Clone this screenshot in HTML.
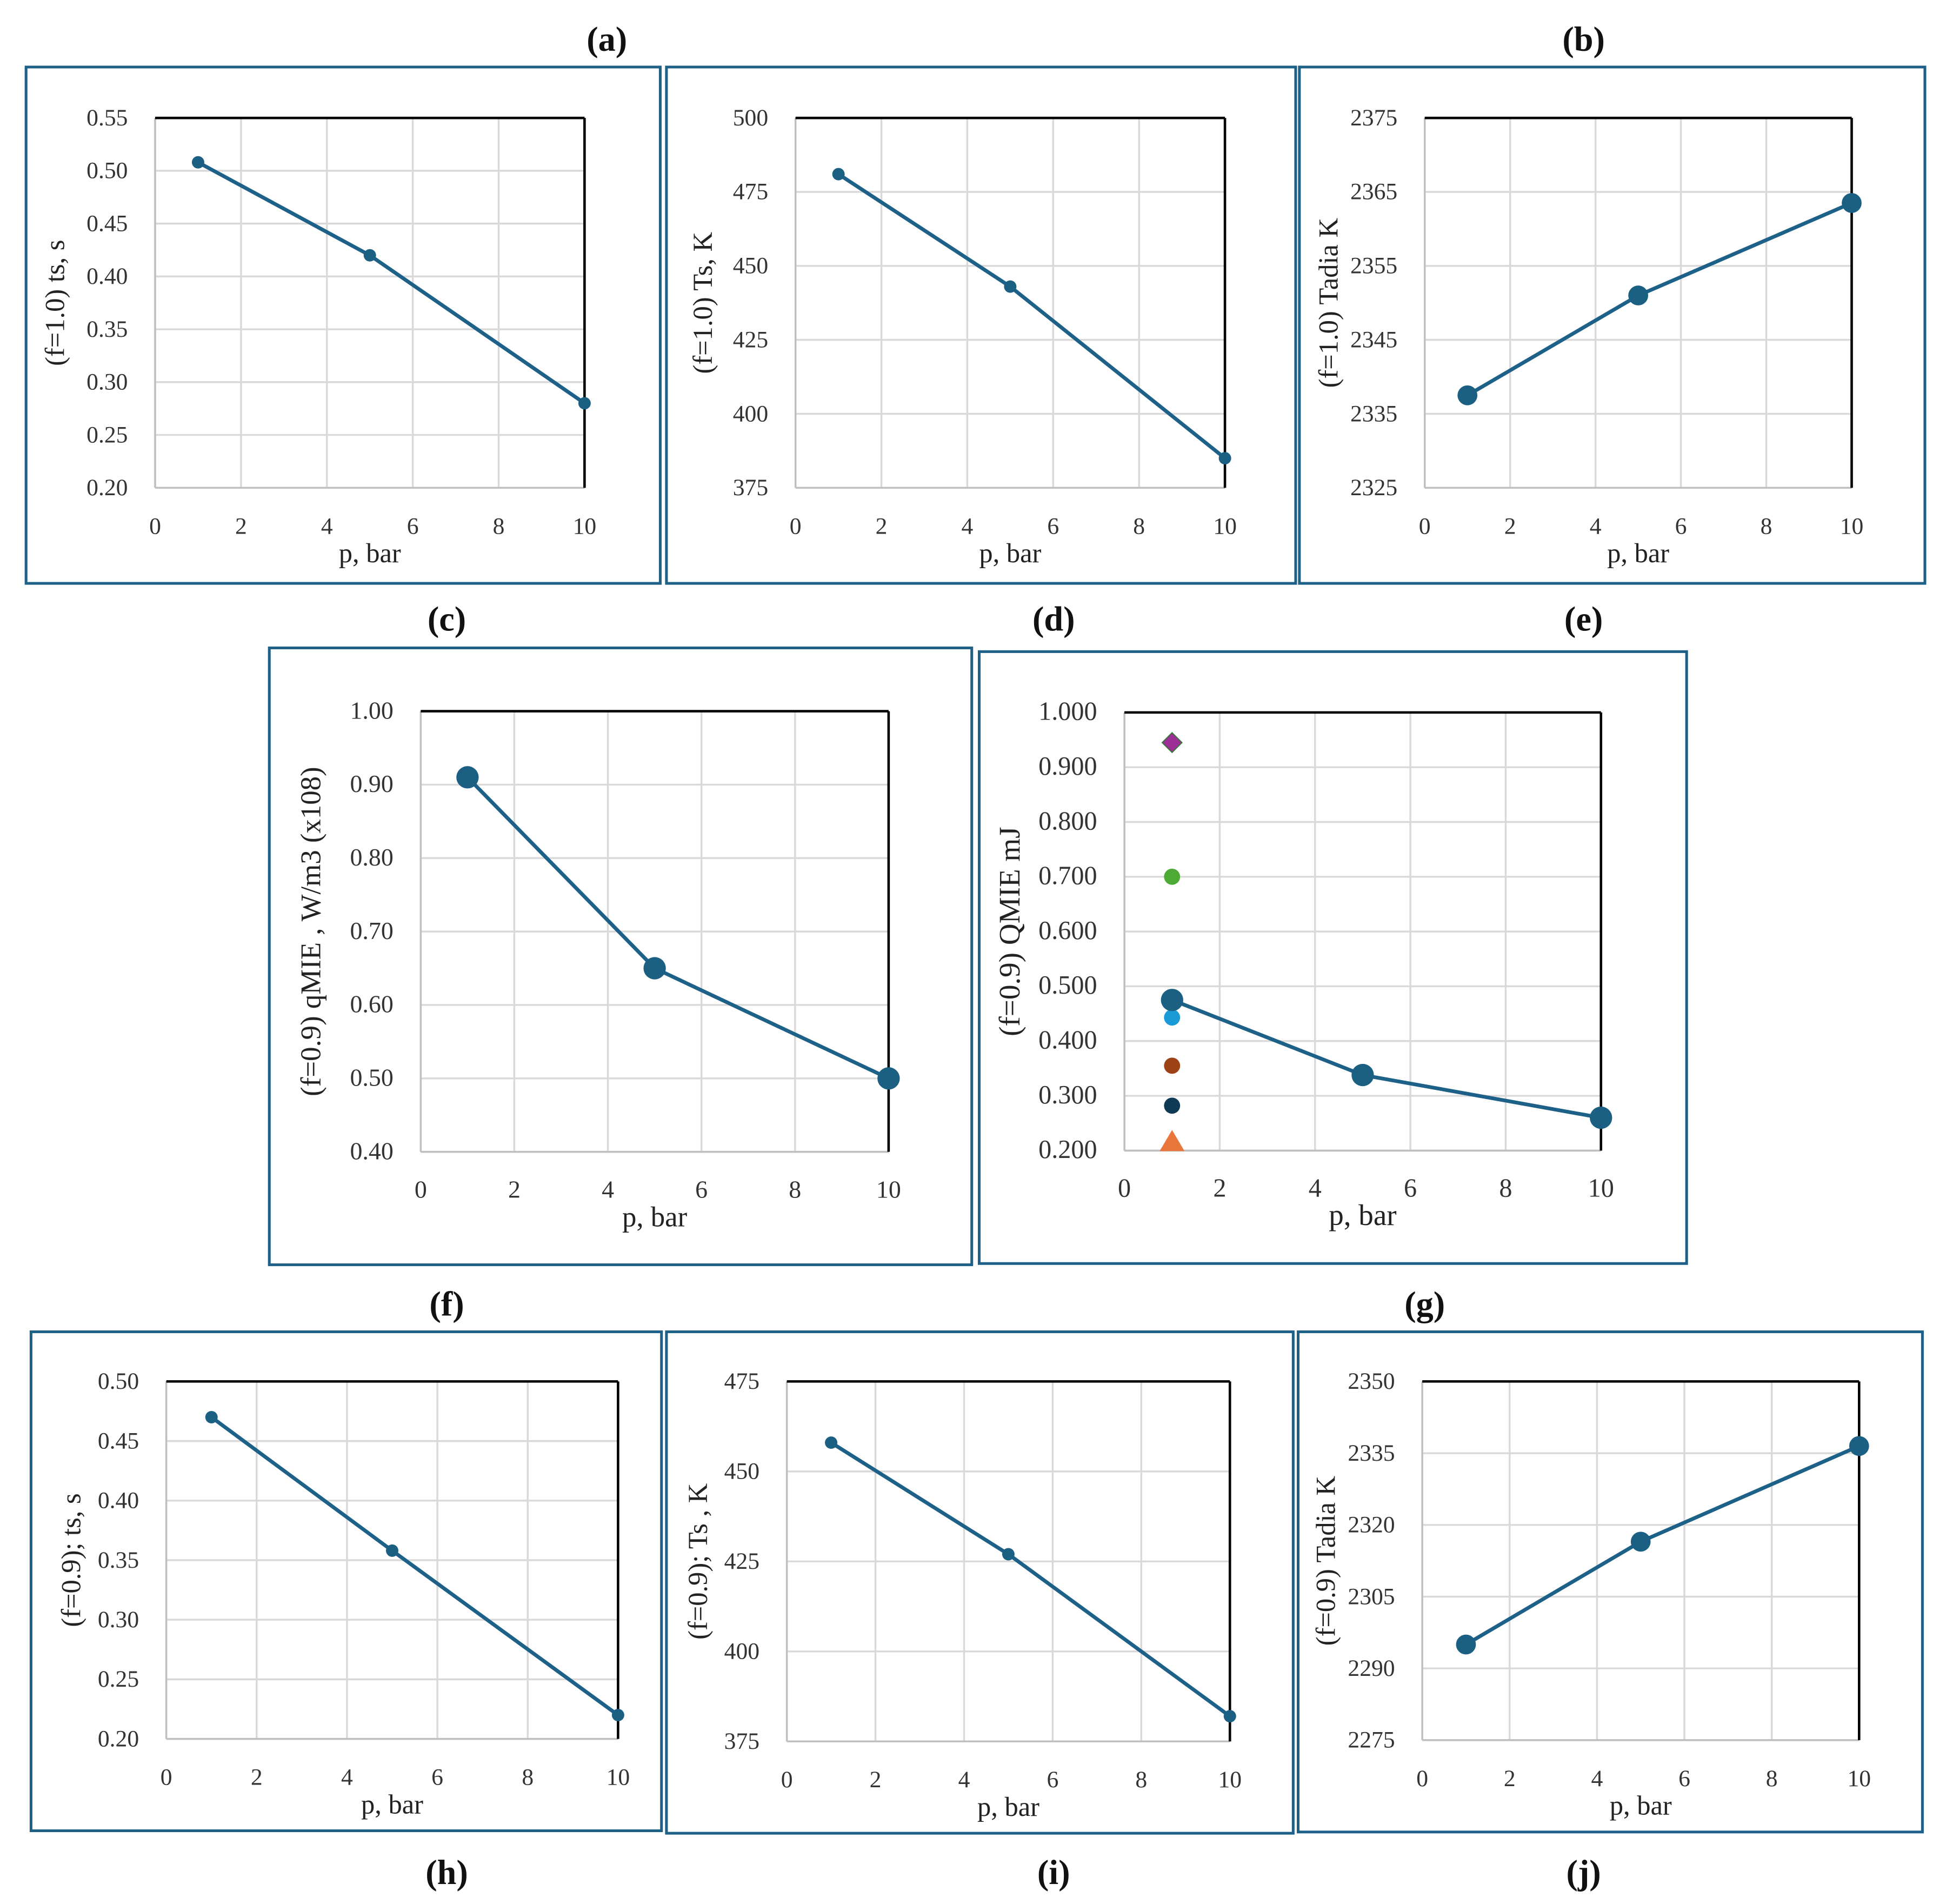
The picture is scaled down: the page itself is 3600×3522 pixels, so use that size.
<!DOCTYPE html>
<html><head><meta charset="utf-8">
<style>
html,body{margin:0;padding:0;background:#fff;}
svg{display:block;font-family:"Liberation Serif",serif;}
</style></head>
<body>
<svg id="fig" width="3600" height="3522" viewBox="0 0 1568 1534" xmlns="http://www.w3.org/2000/svg">
<rect x="0" y="0" width="1568" height="1534" fill="#fff"/>
</svg>
<script>
// ---- data ----
const pressure = [1, 5, 10];
const xTicks = [0, 2, 4, 6, 8, 10];
const tsF10 = [0.508, 0.420, 0.280];
const TsF10 = [481, 443, 385];
const TadiaF10 = [2337.5, 2351, 2363.5];
const qmieF09 = [0.91, 0.65, 0.50];
const QmieF09 = [0.475, 0.338, 0.260];
const QmieRefValues = [0.945, 0.700, 0.443, 0.355, 0.282, 0.215];
const QmieRefColors = ['#9b2f96', '#4caa35', '#1a9bd6', '#9c4315', '#0f3a55', '#e8763a'];
const QmieRefShapes = ['diamond', 'circle', 'circle', 'circle', 'circle', 'triangle'];
const tsF09 = [0.47, 0.358, 0.22];
const TsF09 = [458, 427, 382];
const TadiaF09 = [2295, 2316.5, 2336.5];
const yTicksTs10 = ['0.20','0.25','0.30','0.35','0.40','0.45','0.50','0.55'];
const yTicksT10 = ['375','400','425','450','475','500'];
const yTicksTa10 = ['2325','2335','2345','2355','2365','2375'];
const yTicksQ = ['0.40','0.50','0.60','0.70','0.80','0.90','1.00'];
const yTicksQm = ['0.200','0.300','0.400','0.500','0.600','0.700','0.800','0.900','1.000'];
const yTicksTs09 = ['0.20','0.25','0.30','0.35','0.40','0.45','0.50'];
const yTicksT09 = ['375','400','425','450','475'];
const yTicksTa09 = ['2275','2290','2305','2320','2335','2350'];

const NS = 'http://www.w3.org/2000/svg';
const svg = document.getElementById('fig');
function mk(tag, attrs, parent){
  const e = document.createElementNS(NS, tag);
  for (const k in attrs) e.setAttribute(k, attrs[k]);
  (parent||svg).appendChild(e);
  return e;
}
const panels = [
  {id:'a', frame:[21,54,532,470], plot:[125,95,471,393], yt:yTicksTs10, y:tsF10, r:5, lab:'(f=1.0) ts, s', lx:44, fs:19},
  {id:'b', frame:[537,54,1044,470], plot:[641,95,987,393], yt:yTicksT10, y:TsF10, r:5, lab:'(f=1.0) Ts, K', lx:566, fs:19},
  {id:'c', frame:[1047,54,1551,470], plot:[1148,95,1492,393], yt:yTicksTa10, y:TadiaF10, r:8, lab:'(f=1.0) Tadia K', lx:1070, fs:19},
  {id:'d', frame:[217,522,783,1019], plot:[339,573,716,928], yt:yTicksQ, y:qmieF09, r:9, lab:'(f=0.9) qMIE , W/m3 (x108)', lx:250, fs:20},
  {id:'e', frame:[789,525,1359,1018], plot:[906,574,1290,927], yt:yTicksQm, y:QmieF09, r:9, lab:'(f=0.9) QMIE  mJ', lx:813, fs:21, extra:true},
  {id:'f', frame:[25,1073,533,1475], plot:[134,1113,498,1401], yt:yTicksTs09, y:tsF09, r:5, lab:'(f=0.9); ts, s', lx:57, fs:19},
  {id:'g', frame:[537,1073,1042,1477], plot:[634,1113,991,1403], yt:yTicksT09, y:TsF09, r:5, lab:'(f=0.9); Ts , K', lx:562, fs:19},
  {id:'h', frame:[1046,1073,1549,1476], plot:[1146,1113,1498,1402], yt:yTicksTa09, y:TadiaF09, r:8, lab:'(f=0.9) Tadia K', lx:1068, fs:19}
];
panels.forEach(p => {
  const g = mk('g', {});
  
  
  const [fx0,fy0,fx1,fy1] = p.frame;
  const fr = mk('rect', {x:fx0, y:fy0, width:fx1-fx0, height:fy1-fy0, fill:'none', stroke:'#1d6088', 'stroke-width':2.2}, g);
  
  
  const [x0,y0,x1,y1] = p.plot;
  const ymin = parseFloat(p.yt[0]), ymax = parseFloat(p.yt[p.yt.length-1]);
  const X = v => x0 + (v - xTicks[0])/(xTicks[xTicks.length-1]-xTicks[0])*(x1-x0);
  const Y = v => y1 - (v - ymin)/(ymax-ymin)*(y1-y0);
  xTicks.forEach(t => {
    const l = mk('line', {x1:X(t), y1:y0, x2:X(t), y2:y1, stroke:'#d9d9d9', 'stroke-width':1.5}, g);
    
    
    const tx = mk('text', {x:X(t), y:y1+37, 'font-size':p.fs, 'text-anchor':'middle', fill:'#333'}, g);
    tx.textContent = t;
    
    
  });
  p.yt.forEach(t => {
    const v = parseFloat(t);
    const l = mk('line', {x1:x0, y1:Y(v), x2:x1, y2:Y(v), stroke:'#d9d9d9', 'stroke-width':1.5}, g);
    
    
    const tx = mk('text', {x:x0-22, y:Y(v)+6, 'font-size':p.fs, 'text-anchor':'end', fill:'#333'}, g);
    tx.textContent = t;
    
    
  });
  mk('line', {x1:x0, y1:y0, x2:x0, y2:y1, stroke:'#bfbfbf', 'stroke-width':1.5}, g);
  mk('line', {x1:x0, y1:y1, x2:x1, y2:y1, stroke:'#bfbfbf', 'stroke-width':1.5}, g);
  mk('line', {x1:x0, y1:y0, x2:x1, y2:y0, stroke:'#000', 'stroke-width':2}, g);
  mk('line', {x1:x1, y1:y0, x2:x1, y2:y1, stroke:'#000', 'stroke-width':2}, g);
  const xl = mk('text', {x:(x0+x1)/2, y:y1+60, 'font-size':p.fs+3, 'text-anchor':'middle', fill:'#222'}, g);
  xl.textContent = 'p, bar';
  
  
  const cy = (y0+y1)/2;
  const yl = mk('text', {x:p.lx, y:cy, 'font-size':p.fs+3, 'text-anchor':'middle', fill:'#222', transform:`rotate(-90 ${p.lx} ${cy})`, dy:'0.35em'}, g);
  yl.textContent = p.lab;
  
  
  const pts = pressure.map((x,i) => X(x)+','+Y(p.y[i])).join(' ');
  const pl = mk('polyline', {points:pts, fill:'none', stroke:'#1d6088', 'stroke-width':3}, g);
  
  
  if (p.extra) {
    QmieRefValues.forEach((v,i) => {
      const cx = X(pressure[0]), cy2 = Y(v);
      let m;
      if (QmieRefShapes[i] === 'diamond') m = mk('polygon', {points:`${cx},${cy2-8} ${cx+8},${cy2} ${cx},${cy2+8} ${cx-8},${cy2}`, fill:QmieRefColors[i], stroke:'#2e7d32', 'stroke-width':0.8}, g);
      else if (QmieRefShapes[i] === 'triangle') m = mk('polygon', {points:`${cx},${cy2-10} ${cx+10},${cy2+7} ${cx-10},${cy2+7}`, fill:QmieRefColors[i]}, g);
      else m = mk('circle', {cx:cx, cy:cy2, r:6.5, fill:QmieRefColors[i]}, g);
      
      
    });
  }
  pressure.forEach((x,i) => {
    const c = mk('circle', {cx:X(x), cy:Y(p.y[i]), r:p.r, fill:'#1b5f82'}, g);
    
    
  });
});
const letters = [['(a)',489,41],['(b)',1276,41],['(c)',360,508],['(d)',849,508],['(e)',1276,508],['(f)',360,1060],['(g)',1148,1060],['(h)',360,1518],['(i)',849,1518],['(j)',1276,1518]];
letters.forEach(l => {
  const t = mk('text', {x:l[1], y:l[2], 'font-size':28, 'font-weight':'bold', 'text-anchor':'middle', fill:'#111'});
  t.textContent = l[0];
  
  
});
</script>
</body></html>
